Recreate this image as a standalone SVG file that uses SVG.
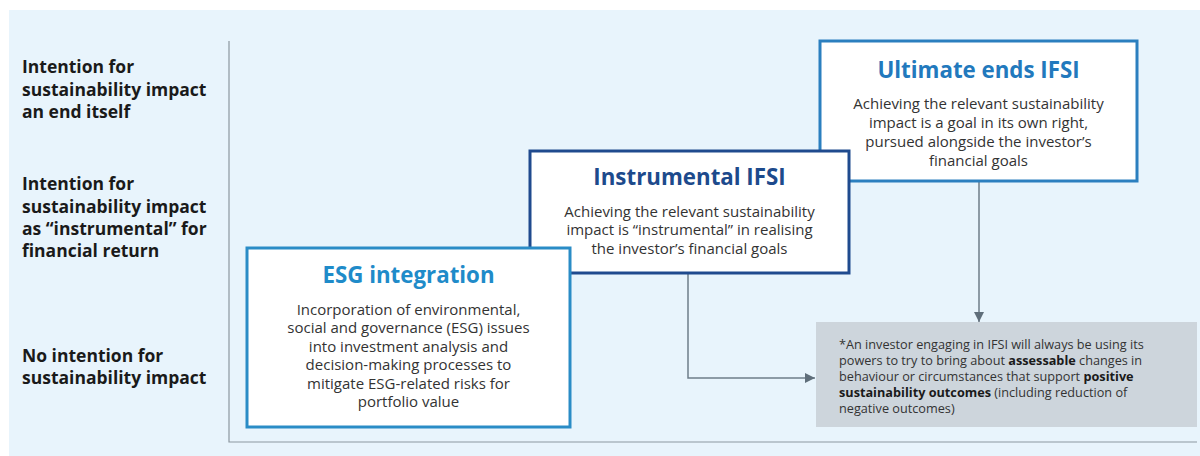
<svg xmlns="http://www.w3.org/2000/svg" width="1200" height="456" viewBox="0 0 1200 456">
<defs>
<style>
.lbl{font-family:"Open Sans","Liberation Sans",sans-serif;font-weight:700;font-size:17.5px;fill:#1a1a1a}
.ttl{font-family:"Open Sans","Liberation Sans",sans-serif;font-weight:700;font-size:22.3px;text-anchor:middle}
.body{font-family:"Open Sans","Liberation Sans",sans-serif;font-size:15px;fill:#333;text-anchor:middle}
.note{font-family:"Open Sans","Liberation Sans",sans-serif;font-size:12.7px;fill:#333}
.note .b{font-weight:700;fill:#1a1a1a}
.box{fill:#fff;stroke-width:3}
.conn{fill:none;stroke:#6e7d89;stroke-width:1.5}
.axis{fill:none;stroke:#8c979f;stroke-width:1.2}
</style>
<marker id="arr" viewBox="0 0 10 10" refX="10" refY="5" markerWidth="10" markerHeight="10" markerUnits="userSpaceOnUse" orient="auto">
<path d="M0,0 L10,5 L0,10 z" fill="#5f6e7a"/>
</marker>
</defs>
<rect x="0" y="0" width="1200" height="456" fill="#fff"/>
<rect x="9" y="10" width="1191" height="446" fill="#e8f4fc"/>
<g id="axes">
<path class="axis" d="M229,41 V442 H1197"/>
</g>
<g id="labels">
<text class="lbl" x="22" y="73">Intention for</text>
<text class="lbl" x="22" y="96">sustainability impact</text>
<text class="lbl" x="22" y="118">an end itself</text>
<text class="lbl" x="22" y="190">Intention for</text>
<text class="lbl" x="22" y="213">sustainability impact</text>
<text class="lbl" x="22" y="235">as “instrumental” for</text>
<text class="lbl" x="22" y="257">financial return</text>
<text class="lbl" x="22" y="362">No intention for</text>
<text class="lbl" x="22" y="384">sustainability impact</text>
</g>
<g id="connectors">
<path class="conn" d="M688,273 V378 H815" marker-end="url(#arr)"/>
<path class="conn" d="M979,181 V322" marker-end="url(#arr)"/>
</g>
<g id="ultimate">
<rect class="box" x="820" y="41" width="317" height="140" stroke="#2b7fbf"/>
<text class="ttl" x="978.5" y="78" fill="#2279bd">Ultimate ends IFSI</text>
<text class="body" x="978.5" y="109">Achieving the relevant sustainability</text>
<text class="body" x="978.5" y="128">impact is a goal in its own right,</text>
<text class="body" x="978.5" y="147">pursued alongside the investor’s</text>
<text class="body" x="978.5" y="166">financial goals</text>
</g>
<g id="instrumental">
<rect class="box" x="530" y="151" width="319" height="122" stroke="#1f4a8e"/>
<text class="ttl" x="689.5" y="185" fill="#1d4a8c">Instrumental IFSI</text>
<text class="body" x="689.5" y="216.5">Achieving the relevant sustainability</text>
<text class="body" x="689.5" y="235">impact is “instrumental” in realising</text>
<text class="body" x="689.5" y="253.5">the investor’s financial goals</text>
</g>
<g id="esg">
<rect class="box" x="247" y="248" width="323" height="179" stroke="#2a8cc6"/>
<text class="ttl" x="408.5" y="283" fill="#1f8bc9">ESG integration</text>
<text class="body" x="408.5" y="315">Incorporation of environmental,</text>
<text class="body" x="408.5" y="333.4">social and governance (ESG) issues</text>
<text class="body" x="408.5" y="351.8">into investment analysis and</text>
<text class="body" x="408.5" y="370.2">decision-making processes to</text>
<text class="body" x="408.5" y="388.6">mitigate ESG-related risks for</text>
<text class="body" x="408.5" y="407">portfolio value</text>
</g>
<g id="note">
<rect x="816" y="322" width="381" height="105" fill="#cdd5dc"/>
<text class="note" x="839" y="349">*An investor engaging in IFSI will always be using its</text>
<text class="note" x="839" y="365">powers to try to bring about <tspan class="b">assessable</tspan> changes in</text>
<text class="note" x="839" y="381">behaviour or circumstances that support <tspan class="b">positive</tspan></text>
<text class="note" x="839" y="397"><tspan class="b">sustainability outcomes</tspan> (including reduction of</text>
<text class="note" x="839" y="413">negative outcomes)</text>
</g>
</svg>
